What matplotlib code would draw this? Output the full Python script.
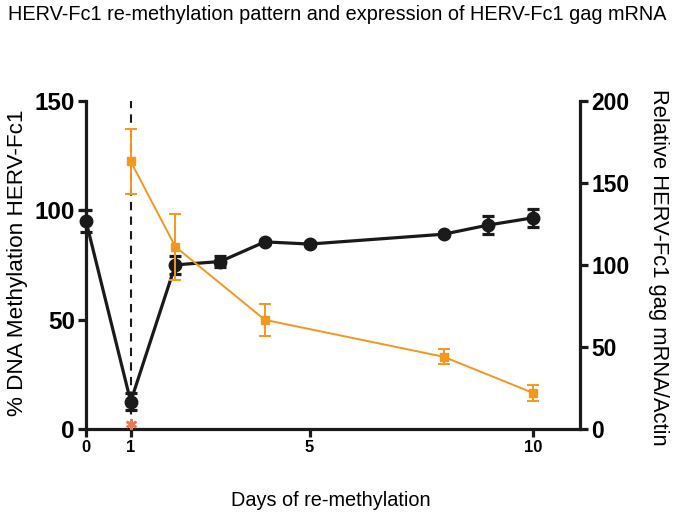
import matplotlib
matplotlib.use("Agg")
import matplotlib.pyplot as plt

plt.rcParams['font.family'] = ['Liberation Sans', 'DejaVu Sans']

# Data
days_meth = [0, 1, 2, 3, 4, 5, 8, 9, 10]
methylation = [95, 12.5, 75, 76.5, 85.5, 84.5, 89, 93.2, 96.5]
methylation_err = [5, 4, 4, 2.5, 1, 1, 1, 4, 4]

days_expr = [1, 2, 4, 8, 10]
expression = [163, 111, 66.5, 44, 22]
expression_err = [20, 20, 9.7, 4.7, 5]

asterisk_day = [1]
asterisk_y = [2.5]

title = "HERV-Fc1 re-methylation pattern and expression of HERV-Fc1 gag mRNA"
xlabel = "Days of re-methylation"
ylabel_left = "% DNA Methylation HERV-Fc1"
ylabel_right = "Relative HERV-Fc1 gag mRNA/Actin"
xticks = [0, 1, 5, 10]
yticks_left = [0, 50, 100, 150]
yticks_right = [0, 50, 100, 150, 200]

orange = '#F5961E'
black = '#1a1a1a'

fig = plt.figure(figsize=(6.76, 5.16), dpi=100)
ax = fig.add_axes([86/676, 87/516, (580-86)/676, (429-100.7)/516])
ax2 = ax.twinx()

# dashed vertical line at day 1
ax.plot([1, 1], [0, 150], ls=(0, (4, 3)), color=black, lw=1.5, zorder=1)

ax.errorbar(days_meth, methylation, yerr=methylation_err, color=black, lw=2.3,
            marker='o', markersize=9, capsize=4.5, capthick=2.3, elinewidth=2.3,
            zorder=3, clip_on=False)

ax2.errorbar(days_expr, expression, yerr=expression_err, color=orange, lw=1.4,
             marker='s', markersize=6, capsize=4.5, capthick=1.4, elinewidth=1.4,
             zorder=4, clip_on=False)

# asterisk
ax.plot(asterisk_day, asterisk_y, marker=(6, 2, 0), color='#F07855',
        markersize=8, mew=1.8, ls='none', zorder=5, clip_on=False)

ax.set_xlim(0, 11.05)
ax.set_ylim(0, 150)
ax2.set_ylim(0, 200)

for a in (ax, ax2):
    a.spines['top'].set_visible(False)
    for s in a.spines.values():
        s.set_linewidth(2.3)
        s.set_color(black)
    a.tick_params(width=2.3, length=6, color=black)
ax2.spines['left'].set_visible(False)
ax2.spines['bottom'].set_visible(False)
ax.spines['right'].set_visible(False)

ax.set_xticks(xticks)
ax.set_xticklabels([str(t) for t in xticks], fontsize=12, fontweight='bold')
ax.set_yticks(yticks_left)
ax.set_yticklabels([str(t) for t in yticks_left], fontsize=17.5, fontweight='bold')
ax2.set_yticks(yticks_right)
ax2.set_yticklabels([str(t) for t in yticks_right], fontsize=16.5, fontweight='bold')
ax.tick_params(axis='x', pad=2)
ax.tick_params(axis='y', pad=2)
ax2.tick_params(axis='y', pad=2)

fig.text(8/676, 1 - 20/516, title, fontsize=14.3, ha='left', va='baseline')
fig.text(331/676, 1 - 506/516, xlabel, fontsize=14.3, ha='center', va='baseline')
fig.text(18/676, 1 - 263/516, ylabel_left, fontsize=16.2, rotation=90, ha='center', va='center')
fig.text(659/676, 1 - 267/516, ylabel_right, fontsize=15.8, rotation=-90, ha='center', va='center')

fig.savefig('out.png', dpi=100)
